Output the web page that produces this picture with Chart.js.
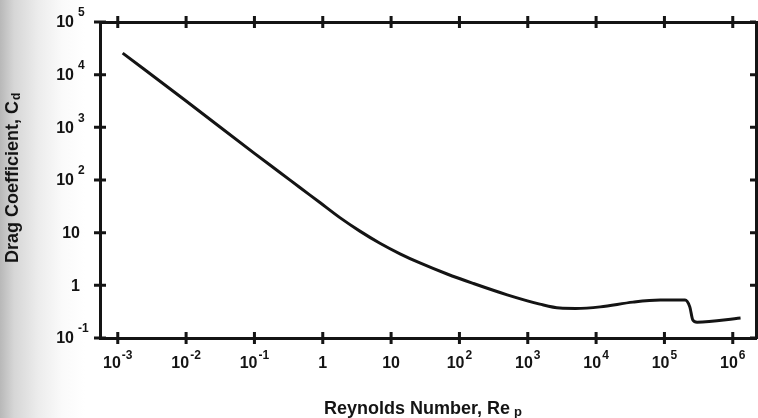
<!DOCTYPE html>
<html>
<head>
<meta charset="utf-8">
<script src="https://cdn.jsdelivr.net/npm/chart.js@4.4.0/dist/chart.umd.min.js"></script>
<style>
  html, body { margin: 0; padding: 0; background: #fff; }
  #wrap {
    width: 758px; height: 418px;
    background: linear-gradient(90deg, #b8b8b8 0px, #d6d6d6 14px, #ececec 38px, #fafafa 62px, #fff 85px);
  }
</style>
</head>
<body>
<div id="wrap"><canvas id="myChart" width="758" height="418"></canvas></div>
<script>
// Drag curve (Re, Cd)
const reynolds = [0.00118, 0.01, 0.1, 0.236, 0.462, 0.908, 1.78, 3.49, 6.86, 13.5, 26.4, 66, 158, 500, 1500, 2950, 5000, 11500, 34700, 87000, 200000, 235000, 260000, 300000, 1300000];
const dragCoeff = [25700, 3170, 320, 139, 72, 37.3, 19.3, 10.7, 6.3, 3.97, 2.66, 1.64, 1.09, 0.66, 0.44, 0.37, 0.365, 0.39, 0.48, 0.525, 0.525, 0.39, 0.22, 0.2, 0.24];

// tick positions and labels: [base, exponent]
const xTickValues = [1e-3, 1e-2, 1e-1, 1, 10, 1e2, 1e3, 1e4, 1e5, 1e6];
const xTickLabels = [["10", "-3"], ["10", "-2"], ["10", "-1"], ["1", ""], ["10", ""], ["10", "2"], ["10", "3"], ["10", "4"], ["10", "5"], ["10", "6"]];
const yTickValues = [1e-1, 1, 10, 1e2, 1e3, 1e4, 1e5];
const yTickLabels = [["10", "-1"], ["1", ""], ["10", ""], ["10", "2"], ["10", "3"], ["10", "4"], ["10", "5"]];

const ink = "#141414";
const baseFont = "bold 16px 'Liberation Sans', Arial, sans-serif";
const expFont = "bold 12px 'Liberation Sans', Arial, sans-serif";

const data = {
  datasets: [{
    data: reynolds.map((re, i) => ({ x: re, y: dragCoeff[i] })),
    borderColor: ink,
    borderWidth: 3,
    pointRadius: 0,
    cubicInterpolationMode: "monotone",
    fill: false,
  }],
};

function widths(ctx, lbl, gap) {
  ctx.font = baseFont;
  const wb = ctx.measureText(lbl[0]).width;
  ctx.font = expFont;
  const we = lbl[1] ? ctx.measureText(lbl[1]).width + gap : 0;
  return [wb, we];
}

function drawLabel(ctx, lbl, left, midY, gap, rise) {
  const [wb] = widths(ctx, lbl, gap);
  ctx.textAlign = "left";
  ctx.textBaseline = "middle";
  ctx.font = baseFont;
  ctx.fillText(lbl[0], left, midY);
  if (lbl[1]) {
    ctx.font = expFont;
    ctx.fillText(lbl[1], left + wb + gap, midY - rise);
  }
}

const axisDecor = {
  id: "axisDecor",
  afterDraw(chart) {
    const ctx = chart.ctx;
    const area = chart.chartArea;
    const xs = chart.scales.x, ys = chart.scales.y;
    ctx.save();
    ctx.strokeStyle = ink;
    ctx.fillStyle = ink;
    ctx.lineWidth = 3;
    // crossing ticks on all four sides
    ctx.beginPath();
    xTickValues.forEach(v => {
      const px = xs.getPixelForValue(v);
      ctx.moveTo(px, area.bottom - 6); ctx.lineTo(px, area.bottom + 6);
      ctx.moveTo(px, area.top - 6); ctx.lineTo(px, area.top + 6);
    });
    yTickValues.forEach(v => {
      const py = ys.getPixelForValue(v);
      ctx.moveTo(area.left - 6, py); ctx.lineTo(area.left + 6, py);
      ctx.moveTo(area.right - 6, py); ctx.lineTo(area.right, py);
    });
    ctx.stroke();

    // x tick labels
    xTickValues.forEach((v, i) => {
      const lbl = xTickLabels[i];
      const [wb, we] = widths(ctx, lbl, 1);
      const px = xs.getPixelForValue(v);
      drawLabel(ctx, lbl, px - (wb + we) / 2, area.bottom + 26, 1, 8);
    });
    // y tick labels
    yTickValues.forEach((v, i) => {
      const lbl = yTickLabels[i];
      const [wb] = widths(ctx, lbl, 4);
      const py = ys.getPixelForValue(v);
      const right = lbl[1] ? area.left - 26 : area.left - 20;
      drawLabel(ctx, lbl, right - wb, py + 1, 4, 10);
    });

    // axis titles
    ctx.font = "bold 18px 'Liberation Sans', Arial, sans-serif";
    ctx.textBaseline = "alphabetic";
    ctx.textAlign = "left";
    const xt = "Reynolds Number, Re";
    const wx = ctx.measureText(xt).width;
    const x0 = 417 - wx / 2;
    ctx.fillText(xt, x0, 414);
    ctx.font = "bold 13px 'Liberation Sans', Arial, sans-serif";
    ctx.fillText("p", x0 + wx + 4, 416);

    ctx.translate(13, 263);
    ctx.rotate(-Math.PI / 2);
    ctx.font = "bold 18px 'Liberation Sans', Arial, sans-serif";
    const yt = "Drag Coefficient, C";
    const wy = ctx.measureText(yt).width;
    ctx.textBaseline = "middle";
    ctx.fillText(yt, 0, 0);
    ctx.font = "bold 12px 'Liberation Sans', Arial, sans-serif";
    ctx.fillText("d", wy + 1, 4);
    ctx.restore();
  },
};

const hiddenAxis = (position, size) => ({
  type: "logarithmic",
  position: position,
  ticks: { display: false },
  grid: { display: false },
  border: { display: true, color: ink, width: 3 },
  afterFit: s => {
    if (position === "top" || position === "bottom") s.height = size; else s.width = size;
  },
});

const options = {
  responsive: false,
  animation: false,
  layout: { padding: 0 },
  plugins: { legend: { display: false }, tooltip: { enabled: false } },
  scales: {
    x: Object.assign(hiddenAxis("bottom", 80), { min: Math.pow(10, -3.26), max: Math.pow(10, 6.34) }),
    x2: Object.assign(hiddenAxis("top", 22), { min: Math.pow(10, -3.26), max: Math.pow(10, 6.34) }),
    y: Object.assign(hiddenAxis("left", 100), { min: 0.1, max: 1e5 }),
    y2: Object.assign(hiddenAxis("right", 2), { min: 0.1, max: 1e5 }),
  },
};

const ctx = document.getElementById("myChart").getContext("2d");
const myChart = new Chart(ctx, {
  type: "line",
  data: data,
  options: options,
  plugins: [axisDecor],
});
</script>
</body>
</html>
